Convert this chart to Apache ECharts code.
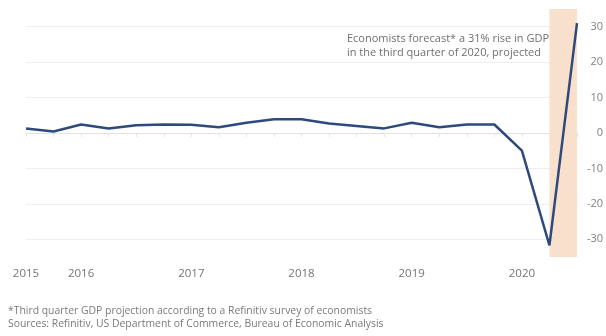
<!DOCTYPE html>
<html>
<head>
<meta charset="utf-8">
<script src="https://cdn.jsdelivr.net/npm/echarts@6/dist/echarts.min.js"></script>
<style>
  html, body { margin: 0; padding: 0; background: #fff; }
  #chart { width: 606px; height: 336px; }
</style>
</head>
<body>
<div id="chart"></div>
<script>
// Quarterly US GDP growth, annualized rate (%)
const quarters = [
  '2015 Q3', '2015 Q4',
  '2016 Q1', '2016 Q2', '2016 Q3', '2016 Q4',
  '2017 Q1', '2017 Q2', '2017 Q3', '2017 Q4',
  '2018 Q1', '2018 Q2', '2018 Q3', '2018 Q4',
  '2019 Q1', '2019 Q2', '2019 Q3', '2019 Q4',
  '2020 Q1', '2020 Q2', '2020 Q3'
];
const gdpGrowth = [
  1.3, 0.4,
  2.4, 1.3, 2.2, 2.4,
  2.3, 1.6, 2.9, 3.9,
  3.9, 2.7, 2.0, 1.3,
  2.9, 1.6, 2.4, 2.4,
  -5.0, -31.7, 31
];
// Year labels shown on the x axis (blank for quarters without a label)
const yearLabels = [
  '2015', '',
  '2016', '', '', '',
  '2017', '', '', '',
  '2018', '', '', '',
  '2019', '', '', '',
  '2020', '', ''
];
const yTicks = [-30, -20, -10, 0, 10, 20, 30];
const projectedFrom = '2020 Q2';
const projectedTo = '2020 Q3';

const annotationLines = [
  'Economists forecast* a 31% rise in GDP',
  'in the third quarter of 2020, projected'
];
const footnotes = [
  '*Third quarter GDP projection according to a Refinitiv survey of economists',
  'Sources: Refinitiv, US Department of Commerce, Bureau of Economic Analysis'
];

const FONT = '"Open Sans", Lato, sans-serif';
const chart = echarts.init(document.getElementById('chart'), null, { renderer: 'canvas' });

chart.setOption({
  backgroundColor: '#ffffff',
  animation: false,
  grid: { left: 26, right: 27, top: 9, bottom: 79, containLabel: false },
  xAxis: {
    type: 'category',
    data: quarters,
    boundaryGap: false,
    axisLine: { show: true, lineStyle: { color: '#e2e2e2', width: 1 } },
    axisTick: { show: true, interval: 0, length: 4, lineStyle: { color: '#e6e6e6' } },
    axisLabel: {
      interval: 0,
      margin: 11,
      color: '#747474',
      fontSize: 11.5,
      fontFamily: FONT,
      formatter: (v, i) => yearLabels[i]
    },
    splitLine: { show: false }
  },
  yAxis: {
    type: 'value',
    position: 'right',
    min: -35,
    max: 35,
    interval: 5,
    axisLine: { show: false },
    axisTick: { show: false },
    axisLabel: {
      margin: 26,
      align: 'right',
      color: '#808080',
      fontSize: 11,
      fontFamily: FONT,
      formatter: v => (yTicks.indexOf(v) >= 0 ? String(v) : '')
    },
    splitLine: {
      show: true,
      lineStyle: { color: ['rgba(0,0,0,0)', '#efefef'], width: 1 }
    }
  },
  series: [{
    type: 'line',
    data: gdpGrowth,
    symbol: 'none',
    smooth: false,
    lineStyle: { color: '#2e4a7d', width: 2.5 },
    z: 3,
    markArea: {
      silent: true,
      itemStyle: { color: '#f8e0cc' },
      data: [[{ xAxis: projectedFrom }, { xAxis: projectedTo }]]
    }
  }],
  graphic: [
    {
      type: 'text',
      right: 57,
      top: 32,
      style: {
        text: annotationLines.join('\n'),
        align: 'right',
        lineHeight: 14,
        fill: '#707070',
        font: '11px ' + FONT
      }
    },
    {
      type: 'text',
      left: 8,
      top: 305,
      style: {
        text: footnotes.join('\n'),
        lineHeight: 12.5,
        fill: '#7a7a7a',
        font: '10.4px ' + FONT
      }
    }
  ]
});
</script>
</body>
</html>
